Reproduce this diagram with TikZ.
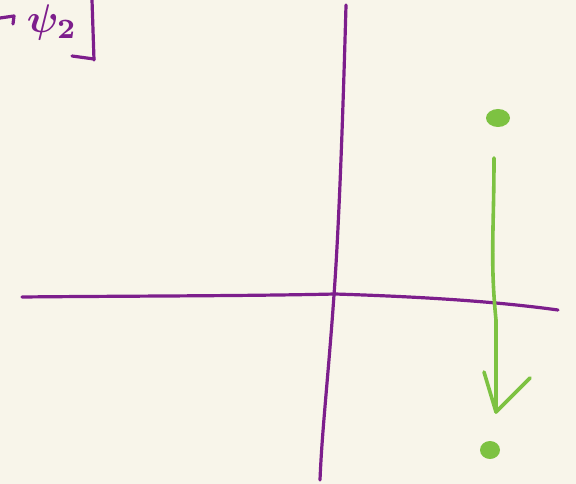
\documentclass[tikz,border=0pt]{standalone}
\usepackage{amsmath}
\usepackage{bm}
\usepackage{graphicx}
\begin{document}
\begin{tikzpicture}[x=1pt,y=-1pt,
  pen/.style={draw=penpurple,line width=3.2pt,line cap=round,line join=round},
  gpen/.style={draw=pengreen,line width=3.6pt,line cap=round,line join=round},
  dotg/.style={fill=pengreen}]
\definecolor{penpurple}{RGB}{125,30,140}
\definecolor{pengreen}{RGB}{125,194,66}
\definecolor{paper}{RGB}{248,245,234}
\fill[paper] (0,0) rectangle (576,484);
\useasboundingbox (0,0) rectangle (576,484);
% axes
\draw[pen] (346,5) .. controls (342,150) and (338,240) .. (334,295) .. controls (328,380) and (322,430) .. (320,480);
\draw[pen] (22,297) .. controls (120,296) and (250,296) .. (335,294) .. controls (430,297) and (500,302) .. (558,310);
% top-left label
\draw[pen] (92,0) -- (94,60);
\draw[pen] (72,56) -- (94,59);
\draw[pen] (0,18) -- (14,16) -- (13,24);
\node[text=penpurple,inner sep=0pt] (psi) at (52,23) {\scalebox{4}{$\bm{\psi}_{\bm{2}}$}};
% green arrow and dots
\fill[dotg] (498,118) ellipse (12 and 9);
\fill[dotg] (490,450) ellipse (10 and 9);
\coordinate (gs) at (494,158);
\coordinate (ge) at (496,412);
\draw[gpen] (gs) .. controls (494,230) and (490,260) .. (496,320) -- (ge);
\draw[gpen] (484,372) -- (ge) -- (530,378);
\end{tikzpicture}
\end{document}
